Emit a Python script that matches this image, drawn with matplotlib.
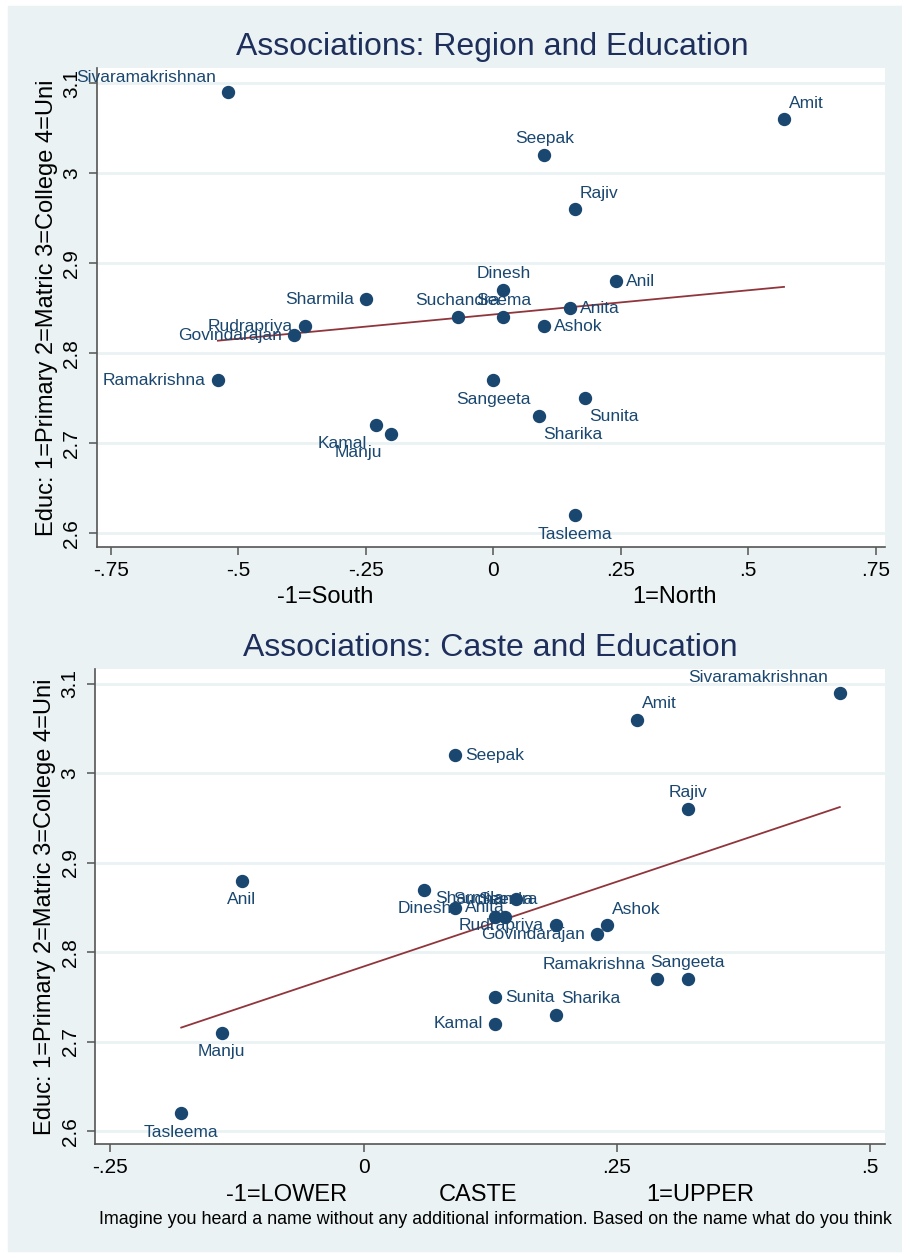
import numpy as np
import matplotlib.pyplot as plt
from matplotlib.patches import Rectangle

plt.rcParams['font.family'] = ['Liberation Sans', 'DejaVu Sans']

# names and education (same for both panels)
names = ["Sivaramakrishnan", "Amit", "Seepak", "Rajiv", "Dinesh", "Anil",
         "Suchandra", "Seema", "Anita", "Ashok", "Sharmila", "Rudrapriya",
         "Govindarajan", "Ramakrishna", "Kamal", "Manju", "Sangeeta",
         "Sunita", "Sharika", "Tasleema"]
educ = [3.09, 3.06, 3.02, 2.96, 2.87, 2.88, 2.84, 2.84, 2.85, 2.83, 2.86, 2.83,
        2.82, 2.77, 2.72, 2.71, 2.77, 2.75, 2.73, 2.62]

# -1=South .. 1=North
region = [-0.52, 0.57, 0.10, 0.16, 0.02, 0.24, -0.07, 0.02, 0.15, 0.10, -0.25,
          -0.37, -0.39, -0.54, -0.23, -0.20, 0.00, 0.18, 0.09, 0.16]
# -1=LOWER .. 1=UPPER
caste = [0.47, 0.27, 0.09, 0.32, 0.06, -0.12, 0.13, 0.14, 0.09, 0.24, 0.15,
         0.19, 0.23, 0.29, 0.13, -0.14, 0.32, 0.13, 0.19, -0.18]

# label clock positions (Stata style)
pos_region = [11, 1, 12, 1, 12, 3, 12, 12, 3, 3, 9, 9, 9, 9, 7, 7, 6, 5, 5, 6]
pos_caste = [11, 1, 3, 12, 6, 6, 12, 12, 3, 1, 9, 9, 9, 11, 9, 6, 12, 3, 1, 6]

region_ticks = [-0.75, -0.5, -0.25, 0, 0.25, 0.5, 0.75]
region_ticklabels = ["-.75", "-.5", "-.25", "0", ".25", ".5", ".75"]
caste_ticks = [-0.25, 0, 0.25, 0.5]
caste_ticklabels = ["-.25", "0", ".25", ".5"]
educ_ticks = [2.6, 2.7, 2.8, 2.9, 3.0, 3.1]
educ_ticklabels = ["2.6", "2.7", "2.8", "2.9", "3", "3.1"]

NAVY = '#1A476F'
MAROON = '#90353B'
BG = '#EAF2F3'
TITLE = '#1E2F5C'

W, H = 902, 1256
fig = plt.figure(figsize=(W / 100, H / 100), dpi=100)
fig.patch.set_facecolor('white')
fig.patches.append(Rectangle((8 / W, 0.004), 1, 1 - 6 / H - 0.004,
                             transform=fig.transFigure, color=BG, zorder=-5))

# pixel offsets for each clock position: dx, dy (up), ha
OFFS = {3: (10, 0, 'left'), 9: (-12, 0, 'right'), 12: (0, 17, 'center'),
        6: (0, -19, 'center'), 1: (5, 16, 'left'), 11: (-12, 15, 'right'),
        5: (4, -18, 'left'), 7: (-9, -18, 'right')}


def px(x0, y0, x1, y1):
    return [x0 / W, 1 - y1 / H, (x1 - x0) / W, (y1 - y0) / H]


def panel(ax, xs, positions, xlim, ylim, ticks, ticklabels):
    ax.set_facecolor('white')
    ax.set_xlim(*xlim)
    ax.set_ylim(*ylim)
    for s in ['top', 'right']:
        ax.spines[s].set_visible(False)
    for s in ['left', 'bottom']:
        ax.spines[s].set_color('#555555')
        ax.spines[s].set_linewidth(1.2)
    ax.set_yticks(educ_ticks)
    ax.set_yticklabels(educ_ticklabels, rotation=90, va='center')
    ax.set_xticks(ticks)
    ax.set_xticklabels(ticklabels)
    ax.tick_params(axis='both', labelsize=15, length=6, width=1.1,
                   color='#555555', direction='out')
    ax.tick_params(axis='y', pad=5)
    ax.tick_params(axis='x', pad=4)
    ax.grid(axis='y', color=BG, linewidth=2)
    ax.set_axisbelow(True)

    xs = np.array(xs)
    ys = np.array(educ)
    b, a = np.polyfit(xs, ys, 1)
    xl = np.array([xs.min(), xs.max()])
    ax.plot(xl, a + b * xl, color=MAROON, lw=1.3, zorder=2)
    ax.plot(xs, ys, 'o', color=NAVY, ms=8.6, mec=NAVY, zorder=3, clip_on=False)
    for n, x, y, p in zip(names, xs, ys, positions):
        dx, dy, ha = OFFS[p]
        ax.annotate(n, (x, y), xytext=(dx * 0.72, dy * 0.72),
                    textcoords='offset points', ha=ha, va='center',
                    fontsize=12.5, color=NAVY, zorder=4)
    ax.set_ylabel('Educ: 1=Primary 2=Matric 3=College 4=Uni', fontsize=17)


ax1 = fig.add_axes(px(96.7, 68, 885, 546.7))
panel(ax1, region, pos_region, (-0.7776, 0.768), (2.5851, 3.117),
      region_ticks, region_ticklabels)
ax1.yaxis.set_label_coords((58 - 96.7) / (885 - 96.7), 0.5)

ax2 = fig.add_axes(px(95, 669.3, 885, 1144.3))
panel(ax2, caste, pos_caste, (-0.2651, 0.5146), (2.5855, 3.1162),
      caste_ticks, caste_ticklabels)
ax2.yaxis.set_label_coords((56 - 95) / (885 - 95), 0.5)

fig.text(492 / W, 1 - 47 / H, 'Associations: Region and Education',
         ha='center', va='center', fontsize=23, color=TITLE)
fig.text(490 / W, 1 - 648 / H, 'Associations: Caste and Education',
         ha='center', va='center', fontsize=23, color=TITLE)

fig.text(325 / W, 1 - 597 / H, '-1=South', ha='center', va='center', fontsize=17)
fig.text(675 / W, 1 - 597 / H, '1=North', ha='center', va='center', fontsize=17)

fig.text(287 / W, 1 - 1195 / H, '-1=LOWER', ha='center', va='center', fontsize=17)
fig.text(478 / W, 1 - 1195 / H, 'CASTE', ha='center', va='center', fontsize=17)
fig.text(700 / W, 1 - 1195 / H, '1=UPPER', ha='center', va='center', fontsize=17)

fig.text(99 / W, 1 - 1219 / H,
         'Imagine you heard a name without any additional information. '
         'Based on the name what do you think',
         ha='left', va='center', fontsize=12.9)

fig.savefig('out.png', dpi=100, facecolor=fig.get_facecolor())
